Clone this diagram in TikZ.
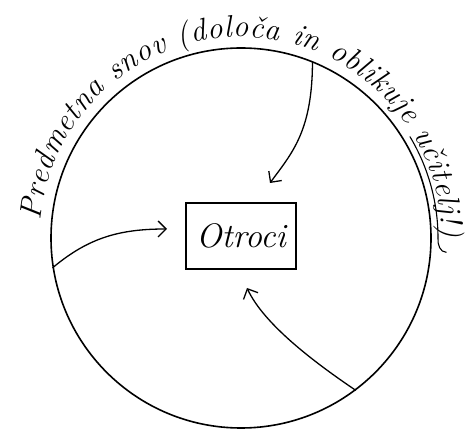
\documentclass[tikz,border=0pt]{standalone}
\usetikzlibrary{arrows.meta,decorations.text}
\tikzset{
  ring/.style={draw, circle, line width=1.6pt, minimum size=380pt, inner sep=0pt},
  kid/.style={draw, line width=1.4pt, minimum width=110pt, minimum height=66pt,
              font=\fontsize{34}{36}\selectfont\itshape},
  arr/.style={-{Straight Barb[length=8pt,width=16pt]}, line width=1.3pt}
}
\begin{document}
\begin{tikzpicture}[x=1pt,y=1pt]
  \useasboundingbox (0,0) rectangle (468,428);
  \node[ring] (snov) at (241,190) {};
  \node[kid] (otroci) at (241,192) {Otroci};
  \coordinate (t1) at (270,245);
  \coordinate (t2) at (167,199);
  \coordinate (t3) at (247,140);
  \draw[arr] (snov.68) .. controls +(0,-70) and +(22,30) .. (t1);
  \draw[arr] (snov.189) to[out=40, in=180] (t2);
  \draw[arr] (snov.-53) .. controls +(146:50) and +(-65:40) .. (t3);
  % text round the circle
  \path[decorate, decoration={text along path, text align={fit to path},
        text={|\fontsize{31}{33}\selectfont\itshape|Predmetna snov (določa in oblikuje učitelj!)}}]
    ([shift={(175:201pt)}]snov.center) arc[start angle=175, end angle=0, radius=201pt];
  \draw[line width=1.1pt] ([shift={(31:197pt)}]snov.center) arc[start angle=31, end angle=0, radius=197pt]
    to[out=-95, in=180] ([shift={(-4:206pt)}]snov.center);
\end{tikzpicture}
\end{document}
